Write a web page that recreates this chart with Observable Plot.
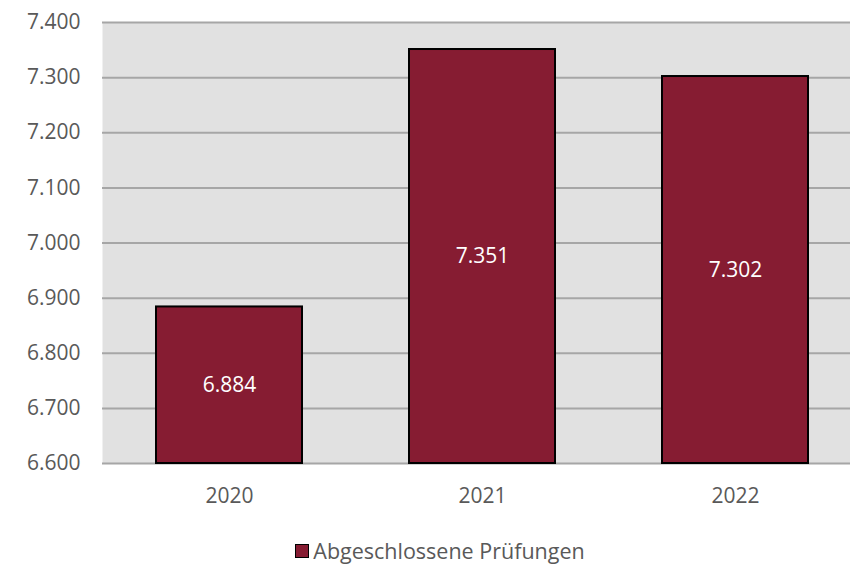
<!DOCTYPE html>
<html>
<head>
<meta charset="utf-8">
<script src="https://cdn.jsdelivr.net/npm/d3@7"></script>
<script src="https://cdn.jsdelivr.net/npm/@observablehq/plot@0.6"></script>
<style>
  html, body { margin: 0; padding: 0; background: #fff; overflow: hidden; }
  body { width: 850px; font-family: "Open Sans", sans-serif; }
  #chart { width: 850px; height: 520px; overflow: hidden; }
  #chart svg { max-width: none !important; width: 861px; height: 520px; }
  #legend { display: flex; justify-content: center; align-items: center; margin-top: 16px; margin-left: 30px;
    font-size: 21.5px; color: #595959; }
  #legend .sw { width: 14px; height: 14px; background: #861c32; border: 1.5px solid #000; margin-right: 4px; box-sizing: border-box; }
</style>
</head>
<body>
<div id="chart"></div>
<div id="legend"><span class="sw"></span><span>Abgeschlossene Prüfungen</span></div>
<script>
const years = ["2020", "2021", "2022"];
const values = [6884, 7351, 7302];
const yTicks = [6600, 6700, 6800, 6900, 7000, 7100, 7200, 7300, 7400];
const seriesName = "Abgeschlossene Prüfungen";
const baseline = 6600;

const de = d3.formatLocale({decimal: ",", thousands: ".", grouping: [3], currency: ["", " €"]});
const fmt = de.format(",d");

const data = years.map((y, i) => ({year: y, value: values[i]}));

const chart = Plot.plot({
  width: 861,
  height: 520,
  marginLeft: 102,
  marginRight: 0,
  marginTop: 22,
  marginBottom: 57,
  style: {fontFamily: "Open Sans, sans-serif", fontSize: "21px", color: "#595959", background: "#fff", display: "block", maxWidth: "none"},
  x: {domain: years, paddingInner: 0.423, paddingOuter: 0.2115, label: null, tickSize: 0, tickPadding: 25},
  y: {domain: [6600, 7400], ticks: yTicks, tickFormat: fmt, label: null, tickSize: 0, tickPadding: 22},
  marks: [
    Plot.frame({fill: "#e1e1e1", stroke: null}),
    Plot.gridY(yTicks, {stroke: "#a6a6a6", strokeOpacity: 1, strokeWidth: 2}),
    Plot.barY(data, {x: "year", y1: baseline, y2: "value", fill: "#861c32", stroke: "#000", strokeWidth: 2, inset: 0}),
    Plot.text(data, {x: "year", y: d => (baseline + d.value) / 2, text: d => fmt(d.value), fill: "#fff", fontSize: 21}),
    Plot.axisX({tickSize: 0, tickPadding: 25, fontSize: 21, fill: "#595959"}),
    Plot.axisY({ticks: yTicks, tickFormat: fmt, tickSize: 0, tickPadding: 22, fontSize: 21, fill: "#595959"})
  ]
});
document.getElementById("chart").appendChild(chart);
</script>
</body>
</html>
